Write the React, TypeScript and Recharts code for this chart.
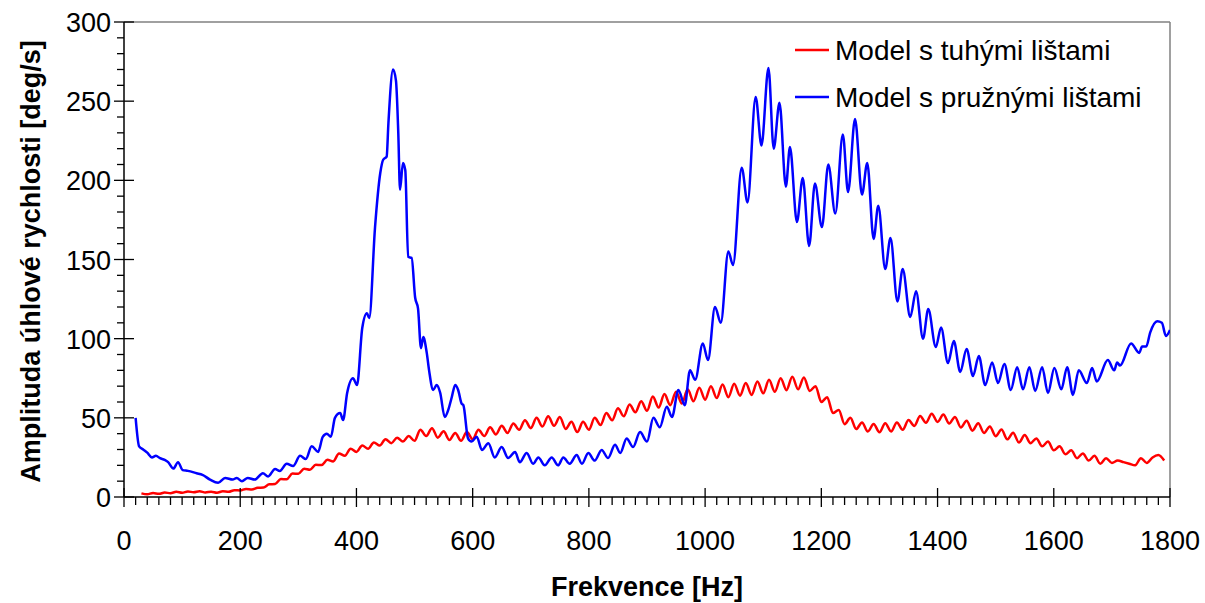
import { LineChart, Line, XAxis, YAxis, ReferenceLine, Label } from "recharts";

// frequency [Hz] / amplitude [deg/s]
const rigidFreq = [
  30, 40, 50, 60, 70, 80, 90, 100, 110, 120, 130, 140, 150, 160, 170, 180, 190, 200, 210, 220,
  230, 240, 250, 260, 270, 280, 290, 300, 310, 320, 330, 340, 350, 360, 370, 380, 390, 400, 410, 420,
  430, 440, 450, 460, 470, 480, 490, 500, 510, 520, 530, 540, 550, 560, 570, 580, 590, 600, 610, 620,
  630, 640, 650, 660, 670, 680, 690, 700, 710, 720, 730, 740, 750, 760, 770, 780, 790, 800, 810, 820,
  830, 840, 850, 860, 870, 880, 890, 900, 910, 920, 930, 940, 950, 960, 970, 980, 990, 1000, 1010, 1020,
  1030, 1040, 1050, 1060, 1070, 1080, 1090, 1100, 1110, 1120, 1130, 1140, 1150, 1160, 1170, 1180, 1190, 1200, 1210, 1220,
  1230, 1240, 1250, 1260, 1270, 1280, 1290, 1300, 1310, 1320, 1330, 1340, 1350, 1360, 1370, 1380, 1390, 1400, 1410, 1420,
  1430, 1440, 1450, 1460, 1470, 1480, 1490, 1500, 1510, 1520, 1530, 1540, 1550, 1560, 1570, 1580, 1590, 1600, 1610, 1620,
  1630, 1640, 1650, 1660, 1670, 1680, 1690, 1700, 1710, 1720, 1730, 1740, 1750, 1760, 1770, 1780, 1790,
];
const rigidAmp = [
  2.3, 1.7, 2.5, 2.0, 2.8, 2.4, 3.3, 2.7, 3.5, 3.0, 3.6, 2.9, 3.3, 2.7, 3.6, 3.3, 4.3, 4.1, 5.1, 4.7,
  5.8, 6.0, 8.0, 8.2, 11.3, 11.2, 14.8, 14.7, 17.8, 17.2, 20.3, 20.2, 23.5, 22.5, 27.5, 26, 30.5, 28.5, 32.5, 30.5,
  34.5, 32.5, 36.5, 34, 37.5, 35, 38.5, 35.5, 42.5, 38.5, 43.5, 37.5, 41.5, 36, 40.5, 35.5, 41, 36.5, 42.5, 38.5,
  44, 39.5, 45, 40.5, 46.5, 42.5, 48.5, 43.5, 50, 44.5, 51, 45, 50.5, 43, 47.5, 41, 47.5, 42.5, 50, 45.5,
  53, 48.5, 56, 51, 58.5, 53.5, 60.5, 54.5, 63.5, 56.5, 65, 58, 66.5, 59, 68, 60.5, 69, 61.5, 70, 62.5,
  71, 63, 71.5, 64, 72, 64.5, 73, 65.5, 74, 66.5, 75, 67.5, 76, 68, 75.5, 67, 70, 60, 63, 53,
  55, 46, 50, 42.9, 47.1, 41.4, 46.1, 40.9, 46.6, 41.4, 47.1, 42.4, 48.6, 44.9, 51.1, 46.9, 52.6, 47.4, 52.1, 46.4,
  50.6, 43.9, 48.1, 41.9, 46.6, 40.4, 44.6, 38.4, 42.6, 36.4, 40.6, 34.4, 39.1, 34, 37, 32, 35, 29.5, 32, 27,
  29.5, 24.5, 27.5, 23, 26, 21, 24.5, 21.5, 23, 22, 21, 20, 24.5, 21.5, 25, 26.5, 23,
];

const flexFreq = [
  20, 26, 33, 40, 48, 55, 62, 70, 76, 85, 93, 101, 110, 125, 135, 148, 162, 174, 187, 194,
  203, 213, 225, 239, 248, 260, 268, 280, 291, 303, 313, 323, 334, 342, 349, 356, 363, 372, 377, 384,
  394, 401, 410, 418, 422, 432, 441, 446, 452, 455, 463, 468, 472, 475, 480, 484, 489, 495, 501, 506,
  511, 515, 521, 525, 532, 538, 544, 552, 558, 564, 570, 575, 581, 584, 592, 598, 607, 616, 627, 638,
  650, 661, 673, 681, 693, 704, 713, 724, 736, 747, 756, 767, 779, 788, 799, 810, 822, 833, 845, 854,
  865, 876, 888, 900, 911, 922, 934, 943, 954, 965, 974, 983, 996, 1005, 1017, 1027, 1040, 1048, 1063, 1073,
  1087, 1097, 1109, 1118, 1128, 1139, 1146, 1158, 1168, 1179, 1189, 1201, 1212, 1224, 1237, 1246, 1258, 1270, 1279, 1290,
  1298, 1310, 1319, 1331, 1340, 1353, 1363, 1375, 1384, 1397, 1406, 1418, 1428, 1439, 1450, 1461, 1471, 1482, 1494, 1504,
  1515, 1526, 1537, 1547, 1558, 1568, 1580, 1590, 1601, 1613, 1623, 1633, 1643, 1657, 1666, 1674, 1693, 1704, 1709, 1714,
  1733, 1747, 1752, 1759, 1766, 1778, 1786, 1793, 1800,
];
const flexAmp = [
  50, 32, 30, 28, 25, 26, 24.5, 23.5, 22, 18, 22, 17, 16.5, 15, 14, 11, 9, 12, 11, 12,
  10, 12, 11, 15, 13, 17.7, 16.4, 21, 19.6, 26, 24, 32, 28.5, 38, 40, 38, 50, 53, 48.6, 65.7,
  75, 70.7, 106.7, 116, 113, 170.5, 204.6, 213, 215, 236, 270, 263, 230, 194, 211, 206.5, 151.6, 151, 126, 119,
  94, 101, 91, 80, 67.6, 70.7, 66, 50.5, 55, 63, 70.7, 67.6, 59, 58, 37, 35, 38, 29.7, 34, 25,
  31.6, 24.6, 28.4, 22, 27.8, 21, 25, 20, 25, 20, 25, 21, 26.5, 21, 27.8, 23, 29.7, 24.6, 33, 27.8,
  37, 31.6, 41, 35, 50, 44, 57, 50.5, 67.6, 58, 80, 74, 97, 86.5, 120, 110, 155, 146.5, 208, 186,
  252.6, 222, 271, 220, 249, 196, 221, 173.7, 201.5, 158.5, 198, 170.5, 210, 179, 229, 192.6, 238.7, 191, 211, 163,
  184, 144, 163.6, 123.5, 144, 113.7, 130, 100, 118.7, 94.7, 107, 84.6, 98.5, 79, 93.5, 76.4, 89, 70.7, 85, 72,
  84, 67.6, 82, 68, 82, 67, 82, 65.7, 81.5, 68, 82, 64.5, 80, 72, 81.5, 73, 86.5, 80, 85, 83,
  97, 91, 95, 95, 104, 111, 110, 101.7, 105.5,
];

const seriesNames = ["Model s tuhými lištami", "Model s pružnými lištami"];
const seriesColors = ["#FF0000", "#0000FF"];

const xTicks = Array.from({ length: 91 }, (_, i) => i * 20);
const yTicks = Array.from({ length: 31 }, (_, i) => i * 10);

const rigid = rigidFreq.map((f, i) => ({ f, v: rigidAmp[i] }));
const flex = flexFreq.map((f, i) => ({ f, v: flexAmp[i] }));

const FONT = "'Liberation Sans', Arial, sans-serif";

function XTick({ x, y, payload }: any) {
  const major = payload.value % 200 === 0;
  return (
    <g>
      <line x1={x} x2={x} y1={major ? y - 9 : y} y2={major ? y + 10 : y + 8} stroke="#000" strokeWidth={1.3} />
      {major && (
        <text x={x} y={y + 53} textAnchor="middle" fontSize={27} fontFamily={FONT} fill="#000">
          {payload.value}
        </text>
      )}
    </g>
  );
}

function YTick({ x, y, payload }: any) {
  const major = payload.value % 50 === 0;
  return (
    <g>
      <line x1={major ? x - 10 : x - 7} x2={major ? x + 10 : x} y1={y} y2={y} stroke="#000" strokeWidth={1.3} />
      {major && (
        <text x={x - 13} y={y + 10} textAnchor="end" fontSize={27} fontFamily={FONT} fill="#000">
          {payload.value}
        </text>
      )}
    </g>
  );
}

function LegendBox() {
  return (
    <svg
      width={380}
      height={110}
      style={{ position: "absolute", left: 795, top: 30, overflow: "visible" }}
    >
      {seriesNames.map((name, i) => (
        <g key={name}>
          <line x1={0} x2={34} y1={20 + i * 47} y2={20 + i * 47} stroke={seriesColors[i]} strokeWidth={2.5} />
          <text x={40} y={30 + i * 47} fontSize={28} fontFamily={FONT} fill="#000">
            {name}
          </text>
        </g>
      ))}
    </svg>
  );
}

export default function App() {
  return (
    <div style={{ position: "absolute", left: 0, top: 0, width: 1205, height: 603, background: "#fff" }}>
      <LineChart width={1205} height={603} margin={{ top: 22, right: 35, bottom: 46, left: 64 }}>
        <XAxis
          dataKey="f"
          type="number"
          domain={[0, 1800]}
          ticks={xTicks}
          interval={0}
          tick={<XTick />}
          tickLine={false}
          tickSize={0}
          tickMargin={0}
          axisLine={{ stroke: "#000", strokeWidth: 1.5 }}
          height={60}
          allowDataOverflow
        >
          <Label
            content={({ viewBox }: any) => (
              <text
                x={viewBox.x + viewBox.width / 2}
                y={viewBox.y + 99}
                textAnchor="middle"
                fontSize={27}
                fontWeight="bold"
                fontFamily={FONT}
                fill="#000"
              >
                Frekvence [Hz]
              </text>
            )}
          />
        </XAxis>
        <YAxis
          type="number"
          domain={[0, 300]}
          ticks={yTicks}
          interval={0}
          tick={<YTick />}
          tickLine={false}
          tickSize={0}
          tickMargin={0}
          axisLine={{ stroke: "#000", strokeWidth: 1.5 }}
          width={60}
          allowDataOverflow
        >
          <Label
            content={({ viewBox }: any) => {
              const cx = 31;
              const cy = viewBox.y + viewBox.height / 2 + 2;
              return (
                <text
                  x={cx}
                  y={cy}
                  transform={`rotate(-90 ${cx} ${cy})`}
                  textAnchor="middle"
                  dominantBaseline="central"
                  fontSize={27}
                  fontWeight="bold"
                  fontFamily={FONT}
                  fill="#000"
                >
                  Amplituda úhlové rychlosti [deg/s]
                </text>
              );
            }}
          />
        </YAxis>
        <ReferenceLine y={300} stroke="#808080" strokeWidth={1.5} />
        <ReferenceLine x={1800} stroke="#808080" strokeWidth={1.5} />
        <Line
          data={rigid}
          dataKey="v"
          name={seriesNames[0]}
          type="monotone"
          stroke={seriesColors[0]}
          strokeWidth={2.5}
          dot={false}
          isAnimationActive={false}
        />
        <Line
          data={flex}
          dataKey="v"
          name={seriesNames[1]}
          type="monotone"
          stroke={seriesColors[1]}
          strokeWidth={2.5}
          dot={false}
          isAnimationActive={false}
        />
      </LineChart>
      <LegendBox />
    </div>
  );
}
